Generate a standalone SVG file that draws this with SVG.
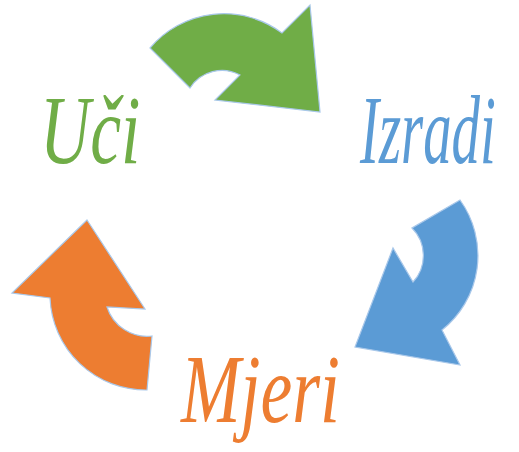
<svg xmlns="http://www.w3.org/2000/svg" width="519" height="452" viewBox="0 0 519 452">
<style>
.arr{stroke:#a9c8ea;stroke-width:1.2;stroke-linejoin:miter}
.lbl{font-family:"Liberation Serif",serif;font-style:italic;font-size:98px}
</style>
<rect width="519" height="452" fill="#ffffff"/>
<g id="connectors">
<path id="arrow-green" class="arr" fill="#70ad47" d="M150,48 A97,97 0 0 1 282,33 L310,5 L320,112 L215,100 L240,75 A38,38 0 0 0 190,88 Z"/>
<path id="arrow-blue" class="arr" fill="#5b9bd5" d="M460,200 A95,95 0 0 1 442,330 L460,365 L355,347 L393,248 L413,282 A39,39 0 0 0 412,228 Z"/>
<path id="arrow-orange" class="arr" fill="#ed7d31" d="M87,220 L145,309 L107,307 A42,42 0 0 0 152,336 L147,390 A96,96 0 0 1 50,298 L12,293 Z"/>
</g>
<g id="node-uci"><text class="lbl" transform="translate(40,163) scale(0.71,1)" fill="#70ad47">Uči</text></g>
<g id="node-izradi"><text class="lbl" transform="translate(360,163) scale(0.58,1)" fill="#5b9bd5">Izradi</text></g>
<g id="node-mjeri"><text class="lbl" transform="translate(181,422) scale(0.73,1)" fill="#ed7d31">Mjeri</text></g>
</svg>
